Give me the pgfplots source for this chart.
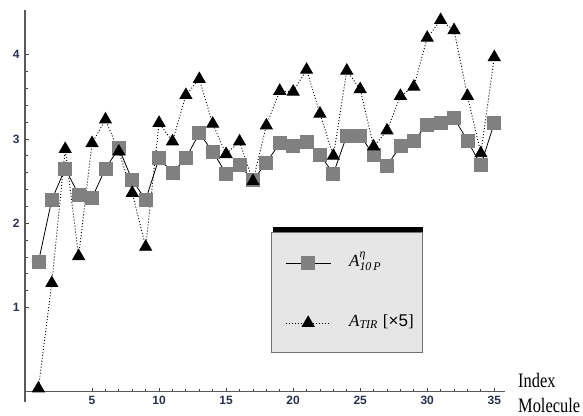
\documentclass[border=0pt]{standalone}
\usepackage{amsmath}
\usepackage{fontspec}
\setsansfont{Liberation Sans}
\newfontfamily\timesfont{Liberation Serif}
\newfontfamily\labfont[FakeStretch=0.8]{Liberation Serif}
\usepackage{pgfplots}
\pgfplotsset{compat=1.18}
\usepackage{pgfplotstable}

\definecolor{sqgray}{HTML}{808080}
\definecolor{legfill}{HTML}{E6E6E6}
\definecolor{ticktxt}{HTML}{2B3050}

% index, A10P, ATIR (x5)
\pgfplotstableread{
x a10p atir
1 1.54 0.04
2 2.28 1.29
3 2.65 2.88
4 2.34 1.61
5 2.30 2.95
6 2.65 3.23
7 2.89 2.85
8 2.51 2.36
9 2.28 1.72
10 2.77 3.19
11 2.60 2.97
12 2.77 3.52
13 3.07 3.71
14 2.85 3.18
15 2.59 2.82
16 2.69 2.97
17 2.51 2.50
18 2.72 3.16
19 2.95 3.57
20 2.92 3.56
21 2.97 3.82
22 2.81 3.30
23 2.59 2.80
24 3.04 3.81
25 3.04 3.59
26 2.81 2.91
27 2.68 3.10
28 2.92 3.51
29 2.98 3.62
30 3.17 4.20
31 3.19 4.41
32 3.25 4.29
33 2.98 3.51
34 2.69 2.83
35 3.19 3.97
}\datatable

\newcommand{\ti}[1]{\text{\timesfont\itshape #1}}

\begin{document}
\begin{tikzpicture}
\useasboundingbox (0,0) rectangle (583pt,415pt);
% legend frame with its black top shadow
\fill[black] (273pt,182pt) rectangle (423pt,188pt);
\draw[fill=legfill, draw=black!55, line width=0.8pt] (271pt,63pt) rectangle (422pt,183pt);
\begin{axis}[
  at={(25pt,13pt)}, anchor=south west,
  scale only axis, width=480pt, height=392pt,
  xmin=0, xmax=35.8, ymin=-0.12, ymax=4.53,
  axis x line*=middle, axis y line*=left,
  axis line style={black!65, line width=1.2pt},
  xtick={5,10,...,35}, ytick={1,2,3,4},
  minor x tick num=4, minor y tick num=4,
  tick align=inside,
  major tick length=4pt, minor tick length=2.5pt,
  tick style={black!75, line width=0.8pt},
  /pgf/number format/assume math mode=true,
  ticklabel style={font=\sffamily\bfseries\fontsize{12}{12}\selectfont, text=ticktxt},
  xticklabel style={yshift=-1pt},
  yticklabel style={xshift=-2pt},
  clip=false,
  legend cell align=left,
  legend style={
    at={(axis description cs:0.5417,0.278)}, anchor=west,
    fill=none, draw=none, inner sep=0pt,
    nodes={inner sep=0pt, text height=10pt, text depth=4pt},
    row sep=46pt, column sep=18pt,
    font=\fontsize{17}{17}\selectfont,
  },
  legend image code/.code={
    \draw[mark repeat=2, mark phase=2, #1]
      plot coordinates {(0pt,0pt) (22.5pt,0pt) (45pt,0pt)};
  },
]
\addplot[black, line width=0.8pt, mark=square*, mark size=6.5pt,
  mark options={solid, fill=sqgray, draw=sqgray}]
  table[x=x, y=a10p] {\datatable};
\addlegendentry{$\ti{A}^{\ti{η}}_{\ti{10\,P}}$}
\addplot[black, line width=0.9pt, dash pattern=on 1pt off 2pt,
  mark=triangle*, mark size=6.8pt,
  mark options={solid, fill=black, draw=black}]
  table[x=x, y=atir] {\datatable};
\addlegendentry{$\ti{A}_{\ti{TIR}}$ {\timesfont[}{\sffamily ×5}{\timesfont]}}
\end{axis}
\node[anchor=base west, inner sep=0pt, font=\fontsize{20.5}{20.5}\labfont] at (518pt,28pt) {Index};
\node[anchor=base west, inner sep=0pt, font=\fontsize{20.5}{20.5}\labfont] at (518pt,3pt) {Molecule};
\end{tikzpicture}
\end{document}
